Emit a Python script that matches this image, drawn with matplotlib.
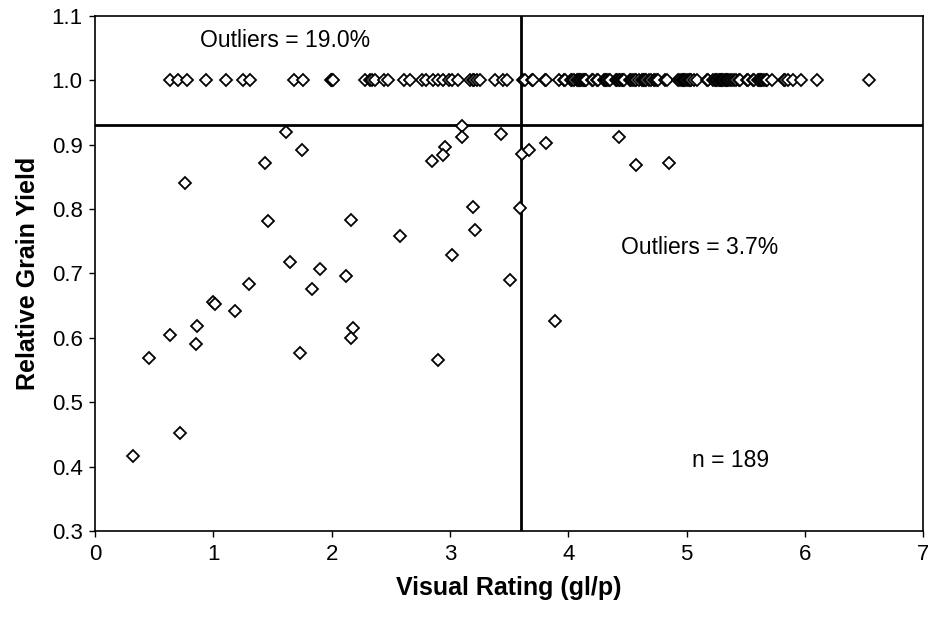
import numpy as np
import matplotlib
matplotlib.use("Agg")
import matplotlib.pyplot as plt

plt.rcParams['font.family'] = ['Liberation Sans', 'DejaVu Sans']

# ── Data ────────────────────────────────────────────────────────
# points sitting at relative yield 1.0, left of the 3.6 cut-off
top_left_x = [0.63, 0.70, 0.78, 0.94, 1.11, 1.25, 1.31, 1.68, 1.76, 1.99,
              2.00, 2.01, 2.28, 2.32, 2.34, 2.37, 2.44, 2.48, 2.61, 2.66,
              2.76, 2.80, 2.86, 2.90, 2.94, 2.99, 3.02, 3.07, 3.17, 3.19,
              3.20, 3.23, 3.25, 3.38, 3.45, 3.48]

# points at 1.0, right of the cut-off (many overlap)
top_right_x = [3.62, 3.63, 3.69, 3.70, 3.80, 3.81, 3.92, 3.96, 3.97, 4.02,
               4.03, 4.05, 4.07, 4.08, 4.09, 4.10, 4.11, 4.12, 4.13, 4.14,
               4.15, 4.20, 4.21, 4.24, 4.25, 4.30, 4.31, 4.32, 4.33, 4.34,
               4.35, 4.40, 4.41, 4.43, 4.44, 4.45, 4.46, 4.47, 4.52, 4.53,
               4.55, 4.56, 4.57, 4.60, 4.62, 4.63, 4.64, 4.65, 4.66, 4.68,
               4.70, 4.72, 4.73, 4.75, 4.76, 4.82, 4.83, 4.93, 4.94, 4.96,
               4.97, 4.98, 4.99, 5.00, 5.02, 5.03, 5.04, 5.06, 5.09, 5.17,
               5.18, 5.22, 5.24, 5.25, 5.26, 5.27, 5.28, 5.29, 5.30, 5.31,
               5.32, 5.33, 5.34, 5.35, 5.37, 5.38, 5.40, 5.42, 5.44, 5.45,
               5.51, 5.52, 5.56, 5.57, 5.60, 5.61, 5.62, 5.63, 5.64, 5.65,
               5.67, 5.68, 5.72, 5.82, 5.83, 5.86, 5.90, 5.97, 6.10, 6.54]

# points below the yield threshold
low_x = [1.61, 3.10, 3.10, 3.43, 1.75, 2.96, 2.94, 2.85, 1.44, 0.76,
         3.19, 1.46, 2.16, 2.58, 3.21, 3.02, 1.65, 1.90, 2.12, 1.30,
         1.83, 1.00, 1.01, 1.18, 0.86, 0.63, 0.85, 2.18, 2.16, 1.73,
         2.90, 0.46, 3.51, 3.59, 0.72, 0.32,
         3.61, 3.67, 3.81, 4.43, 4.57, 4.85, 3.89]
low_y = [0.920, 0.929, 0.911, 0.916, 0.891, 0.896, 0.884, 0.874, 0.872, 0.840,
         0.803, 0.782, 0.783, 0.758, 0.768, 0.728, 0.718, 0.706, 0.696, 0.684,
         0.675, 0.655, 0.653, 0.641, 0.618, 0.604, 0.590, 0.615, 0.599, 0.576,
         0.566, 0.568, 0.690, 0.802, 0.452, 0.417,
         0.886, 0.891, 0.903, 0.912, 0.868, 0.872, 0.626]

rating_cut = 3.6
yield_cut = 0.93

x = np.array(top_left_x + top_right_x + low_x)
y = np.array([1.0] * (len(top_left_x) + len(top_right_x)) + low_y)

# ── Figure ──────────────────────────────────────────────────────
fig = plt.figure(figsize=(9.29, 6.2), dpi=100)
ax = fig.add_axes([0.1023, 0.1435, 0.8916, 0.8312])

ax.plot(x, y, ls='none', marker='D', ms=6.5, mfc='white', mec='black',
        mew=1.3, zorder=3)

ax.axvline(rating_cut, color='black', lw=2.0, zorder=2)
ax.axhline(yield_cut, color='black', lw=2.0, zorder=2)

ax.set_xlim(0, 7)
ax.set_ylim(0.3, 1.1)
ax.set_xticks(np.arange(0, 8, 1))
ax.set_yticks(np.arange(0.3, 1.11, 0.1))
ax.set_yticklabels([f"{v:.1f}" for v in np.arange(0.3, 1.11, 0.1)])
ax.tick_params(direction='out', length=4, width=1, labelsize=16, pad=5)

for s in ax.spines.values():
    s.set_linewidth(1.2)
    s.set_color('black')

ax.set_xlabel('Visual Rating (gl/p)', fontsize=18, fontweight='bold', labelpad=8)
ax.set_ylabel('Relative Grain Yield', fontsize=18, fontweight='bold', labelpad=8)

ax.text(1.61, 1.062, 'Outliers = 19.0%', fontsize=16.5, ha='center', va='center')
ax.text(5.11, 0.740, 'Outliers = 3.7%', fontsize=16.5, ha='center', va='center')
ax.text(5.37, 0.410, 'n = 189', fontsize=16.5, ha='center', va='center')

fig.savefig('out.png', dpi=100, facecolor='white')
